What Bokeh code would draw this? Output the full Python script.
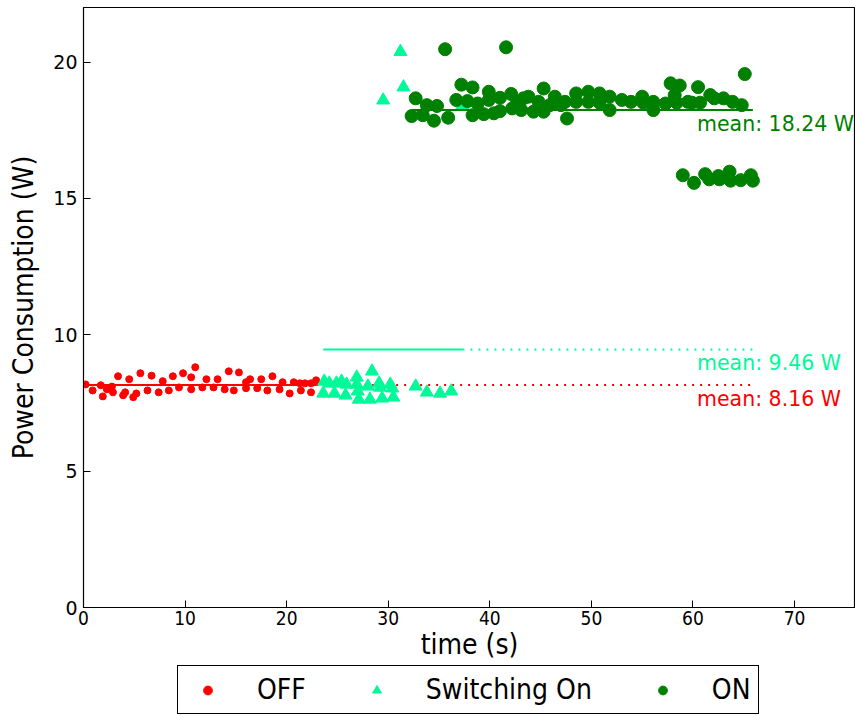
from bokeh.plotting import figure
from bokeh.layouts import column
from bokeh.models import Range1d, Legend, LegendItem, ColumnDataSource, FixedTicker
from bokeh.core.properties import value
from bokeh.embed import file_html
from bokeh.resources import INLINE

# ---- data (time in s, power in W) ----
off_t = [0.2, 0.9, 1.7, 1.9, 2.3, 2.8, 2.9, 3.4, 3.9, 4.1, 4.5, 4.9, 5.2, 5.6, 6.3, 6.7, 7.4, 7.8,
         8.4, 8.8, 9.4, 9.8, 10.6, 10.6, 11.0, 11.7, 12.1, 12.8, 13.2, 13.9, 14.3, 14.8, 15.3, 16.0,
         16.0, 16.4, 17.1, 17.5, 18.1, 18.6, 19.3, 19.6, 20.3, 20.7, 21.4, 21.3, 21.8, 22.4, 22.4, 22.9]
off_w = [8.18, 7.96, 8.15, 7.74, 8.00, 8.10, 7.89, 8.48, 7.78, 7.89, 8.37, 7.71, 7.85, 8.59, 7.96, 8.50,
         7.89, 8.30, 7.96, 8.48, 8.07, 8.59, 8.44, 8.00, 8.81, 8.07, 8.37, 8.07, 8.37, 8.00, 8.66, 7.96,
         8.62, 8.04, 8.26, 8.37, 8.04, 8.37, 7.96, 8.48, 8.00, 8.26, 7.85, 8.26, 7.96, 8.22, 8.22, 7.89,
         8.22, 8.33]

sw_t = [23.7, 23.6, 24.2, 24.7, 24.9, 25.4, 25.8, 25.9, 26.9, 26.9, 27.0, 27.1, 28.0, 28.2, 28.4,
        29.1, 29.2, 29.4, 30.2, 30.4, 30.5, 32.7, 33.8, 35.1, 36.2, 31.2, 31.5, 29.5, 37.3]
sw_w = [8.29, 7.85, 8.22, 7.85, 8.22, 8.29, 7.78, 8.18, 8.44, 8.18, 7.93, 7.63, 8.11, 7.63, 8.66,
        8.22, 8.07, 7.67, 8.18, 8.04, 7.71, 8.11, 7.89, 7.85, 7.93, 20.38, 19.08, 18.60, 18.42]

on_t = [35.6, 41.6, 32.7, 32.3, 33.4, 33.8, 34.5, 34.8, 35.9, 36.7, 37.2, 37.8, 38.3, 38.3, 38.8,
        39.4, 39.9, 39.9, 40.4, 41.0, 41.0, 42.1, 42.2, 42.7, 43.1, 43.3, 43.8, 44.3, 44.8, 45.3,
        45.3, 45.9, 46.4, 47.0, 47.6, 47.4, 48.5, 48.5, 49.7, 49.7, 50.8, 50.8, 51.8, 51.8, 53.0,
        53.9, 55.0, 55.1, 56.1, 56.1, 57.3, 57.8, 58.2, 58.4, 58.7, 59.5, 60.5, 59.9, 60.7, 61.7,
        62.1, 63.0, 63.9, 64.8, 65.1,
        59.0, 60.1, 61.2, 61.6, 62.5, 62.6, 63.6, 63.7, 64.7, 65.7, 65.9]
on_w = [20.47, 20.54, 18.67, 18.02, 18.05, 18.42, 17.85, 18.39, 17.96, 18.61, 19.17, 18.57, 19.07,
        18.05, 18.48, 18.09, 18.91, 18.61, 18.12, 18.69, 18.20, 18.83, 18.30, 18.54, 18.24, 18.67,
        18.73, 18.18, 18.54, 18.18, 19.03, 18.42, 18.73, 18.42, 17.93, 18.54, 18.85, 18.54, 18.91,
        18.54, 18.85, 18.51, 18.73, 18.24, 18.61, 18.54, 18.73, 18.51, 18.54, 18.24, 18.48, 19.22,
        18.79, 18.51, 19.14, 18.54, 19.08, 18.51, 18.51, 18.79, 18.67, 18.67, 18.54, 18.42, 19.56,
        15.85, 15.57, 15.89, 15.70, 15.82, 15.70, 15.98, 15.65, 15.67, 15.85, 15.65]

series_names = ["OFF", "Switching On", "ON"]
series_means = [8.16, 9.46, 18.24]
series_colors = ["#ff0000", "#00fa9a", "#008000"]
series_markers = ["circle", "triangle", "circle"]
series_sizes = [7, 13, 13]
x_ticks = [0, 10, 20, 30, 40, 50, 60, 70]
y_ticks = [0, 5, 10, 15, 20]

series_t = [off_t, sw_t, on_t]
series_w = [off_w, sw_w, on_w]
t_end = max(max(t) for t in series_t)

COND = "DejaVu Sans Condensed"
NORM = "DejaVu Sans"

p = figure(width=855, height=664, output_backend="svg", toolbar_location=None,
           x_range=Range1d(0, 76), y_range=Range1d(0, 22),
           min_border_left=83, min_border_right=0, min_border_top=7, min_border_bottom=57)
p.grid.visible = False
p.outline_line_color = "black"
p.outline_line_width = 1.2
p.outline_line_alpha = 1.0
p.background_fill_color = "white"
p.border_fill_color = "white"

for ax in (p.xaxis[0], p.yaxis[0]):
    ax.major_tick_in = 7
    ax.major_tick_out = 0
    ax.minor_tick_line_color = None
    ax.axis_line_color = "black"
    ax.major_tick_line_color = "black"
    ax.major_label_text_color = "black"
    ax.axis_label_text_color = "black"
    ax.axis_label_text_font_style = "normal"

p.xaxis.ticker = FixedTicker(ticks=x_ticks)
p.yaxis.ticker = FixedTicker(ticks=y_ticks)
p.xaxis.axis_label = "time (s)"
p.yaxis.axis_label = "Power Consumption (W)"
p.xaxis.major_label_text_font = COND
p.xaxis.major_label_text_font_size = "19px"
p.yaxis.major_label_text_font = NORM
p.yaxis.major_label_text_font_size = "19px"
p.xaxis.axis_label_text_font = COND
p.yaxis.axis_label_text_font = COND
p.xaxis.axis_label_text_font_size = "28px"
p.yaxis.axis_label_text_font_size = "28px"
p.xaxis.major_label_standoff = 3
p.yaxis.major_label_standoff = 6
p.xaxis.axis_label_standoff = 0
p.yaxis.axis_label_standoff = 10

# legend strip under the chart (its frame lines up with the chart's frame)
lg = figure(width=855, height=52, output_backend="svg", toolbar_location=None,
            x_range=Range1d(0, 1), y_range=Range1d(0, 1),
            min_border_left=0, min_border_right=0, min_border_top=0, min_border_bottom=0)
lg.axis.visible = False
lg.grid.visible = False
lg.outline_line_color = None
lg.border_fill_color = "white"
lg.background_fill_color = "white"

legend_items = []
for name, tt, ww, m, col, mk, sz in zip(series_names, series_t, series_w, series_means,
                                        series_colors, series_markers, series_sizes):
    src = ColumnDataSource(dict(t=tt, w=ww))
    p.scatter("t", "w", source=src, marker=mk, size=sz, fill_color=col, line_color=col)
    # same data in the legend strip; all of it lies outside that strip's ranges,
    # so only the legend sample is visible there
    proxy = lg.scatter("t", "w", source=src, marker=mk, size=sz, fill_color=col, line_color=col)
    legend_items.append(LegendItem(label=name, renderers=[proxy]))
    t0, t1 = min(tt), max(tt)
    p.line([t0, t1], [m, m], line_color=col, line_width=2)
    if t1 < t_end:
        p.line([t1, t_end], [m, m], line_color=col, line_width=2, line_dash="2 6")

ann_src = ColumnDataSource(dict(
    x=[60.4] * len(series_means),
    y=[m - 0.5 for m in series_means],
    txt=["mean: %.2f W" % m for m in series_means],
    col=series_colors,
))
p.text("x", "y", text="txt", source=ann_src, text_color="col", text_font=value(NORM),
       text_font_size="20.5px", text_baseline="middle", text_align="left")

legend = Legend(items=legend_items, orientation="horizontal", location=(94, 2),
                label_text_font=COND, label_text_font_size="28px", label_text_color="black",
                glyph_width=45, glyph_height=22, label_standoff=27, spacing=48,
                padding=7, margin=0, border_line_color="black", border_line_width=1.5,
                border_line_alpha=1.0, background_fill_alpha=1.0)
lg.add_layout(legend)

layout = column(p, lg, spacing=0)
open("out.html", "w").write(file_html(layout, INLINE))
